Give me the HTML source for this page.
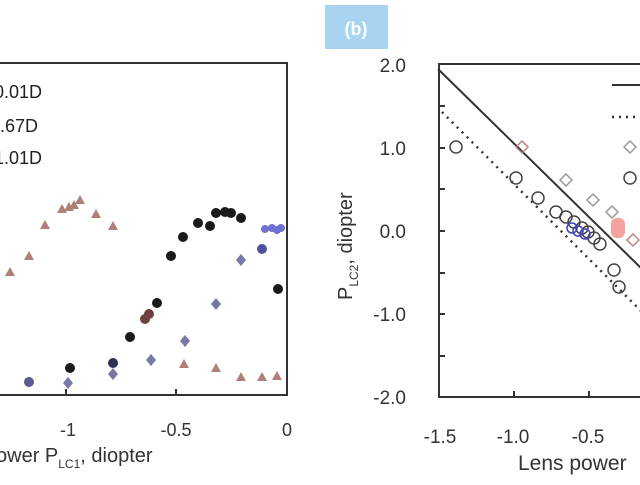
<!DOCTYPE html>
<html><head><style>
body{margin:0;width:640px;height:480px;overflow:hidden;background:#fff;font-family:"Liberation Sans",sans-serif;}
</style></head><body>
<svg width="640" height="480" xmlns="http://www.w3.org/2000/svg" font-family="Liberation Sans, sans-serif">
<rect x="325" y="5" width="63" height="44" fill="#a8d4f2"/>
<text x="356" y="35" font-size="18" font-weight="bold" fill="#fff" text-anchor="middle">(b)</text>
<!-- Left panel -->
<g fill="none" stroke="#333" stroke-width="2">
<polyline points="-2,63 287,63 287,395 -2,395"/>
<line x1="66" y1="395" x2="66" y2="389"/><line x1="176" y1="395" x2="176" y2="389"/>
</g>
<g font-size="18" fill="#222">
<text x="-6" y="98">0.01D</text><text x="-10" y="132">0.67D</text><text x="-6" y="164">1.01D</text>
</g>
<g font-size="18" fill="#333" text-anchor="middle">
<text x="68" y="436">-1</text><text x="176" y="436">-0.5</text><text x="287" y="436">0</text>
</g>
<text x="-4" y="462" font-size="20" fill="#333">ower P<tspan font-size="12" dy="6">LC1</tspan><tspan dy="-6">, diopter</tspan></text>
<g fill="#b08078">
<polygon points="10,267 15,276 5,276"/><polygon points="29,251 34,260 24,260"/><polygon points="45,220 50,229 40,229"/><polygon points="62,204 67,213 57,213"/><polygon points="69,202 74,211 64,211"/><polygon points="74,200 79,209 69,209"/><polygon points="80,195 85,204 75,204"/><polygon points="96,209 101,218 91,218"/><polygon points="113,221 118,230 108,230"/><polygon points="184,359 189,368 179,368"/><polygon points="216,363 221,372 211,372"/><polygon points="241,372 246,381 236,381"/><polygon points="262,372 267,381 257,381"/><polygon points="277,371 282,380 272,380"/>
</g>
<g fill="#7878a8">
<g transform="translate(29,382)"><circle r="5" fill="#5a5a90"/></g>
<polygon points="68,377 73,383 68,389 63,383"/><polygon points="113,368 118,374 113,380 108,374"/><polygon points="151,354 156,360 151,366 146,360"/><polygon points="185,335 190,341 185,347 180,341"/><polygon points="216,298 221,304 216,310 211,304"/><polygon points="241,254 246,260 241,266 236,260"/>
<circle cx="262" cy="249" r="5" fill="#5050a0"/><circle cx="265" cy="229" r="4" fill="#7070d0"/><circle cx="272" cy="228" r="4" fill="#7070d0"/><circle cx="277" cy="230" r="4" fill="#7070d0"/><circle cx="281" cy="228" r="4" fill="#7070d0"/>
</g>
<g fill="#1a1a1a">
<circle cx="70" cy="368" r="5"/><circle cx="113" cy="363" r="5" fill="#303050"/><circle cx="130" cy="337" r="5"/><circle cx="157" cy="303" r="5"/><circle cx="171" cy="256" r="5"/><circle cx="183" cy="237" r="5"/><circle cx="198" cy="223" r="5"/><circle cx="210" cy="226" r="5"/><circle cx="216" cy="213" r="5"/><circle cx="225" cy="212" r="5"/><circle cx="231" cy="213" r="5"/><circle cx="241" cy="218" r="5"/><circle cx="278" cy="289" r="5"/>
<circle cx="145" cy="319" r="5" fill="#704040"/><circle cx="149" cy="314" r="5" fill="#704040"/>
</g>
<!-- Right panel -->
<g fill="none" stroke="#333" stroke-width="2">
<polyline points="645,64 439,64 439,397 645,397"/>
<line x1="514" y1="397" x2="514" y2="391"/><line x1="589" y1="397" x2="589" y2="391"/>
<line x1="439" y1="106" x2="445" y2="106"/><line x1="439" y1="148" x2="445" y2="148"/><line x1="439" y1="189" x2="445" y2="189"/><line x1="439" y1="231" x2="445" y2="231"/><line x1="439" y1="273" x2="445" y2="273"/><line x1="439" y1="314" x2="445" y2="314"/><line x1="439" y1="356" x2="445" y2="356"/>
<line x1="438" y1="69" x2="642" y2="269"/>
<line x1="442" y1="112" x2="642" y2="312" stroke-dasharray="2,5" stroke-width="2.5"/>
<line x1="612" y1="85" x2="640" y2="85"/>
<line x1="612" y1="117" x2="640" y2="117" stroke-dasharray="2,5" stroke-width="2.5"/>
</g>
<g font-size="19" fill="#333" text-anchor="end">
<text x="406" y="72">2.0</text><text x="406" y="155">1.0</text><text x="406" y="238">0.0</text><text x="406" y="321">-1.0</text><text x="406" y="404">-2.0</text>
</g>
<g font-size="19" fill="#333" text-anchor="middle">
<text x="440" y="443">-1.5</text><text x="513" y="443">-1.0</text><text x="588" y="443">-0.5</text>
</g>
<text x="518" y="470" font-size="21" fill="#333">Lens power</text>
<text transform="translate(352,300) rotate(-90)" font-size="20" fill="#333">P<tspan font-size="12" dy="6">LC2</tspan><tspan dy="-6">, diopter</tspan></text>
<g fill="none" stroke="#444" stroke-width="1.5">
<circle cx="456" cy="147" r="6"/><circle cx="516" cy="178" r="6"/><circle cx="538" cy="198" r="6"/><circle cx="556" cy="212" r="6"/><circle cx="566" cy="217" r="6"/><circle cx="574" cy="222" r="6"/><circle cx="582" cy="228" r="6"/><circle cx="588" cy="232" r="6"/><circle cx="594" cy="238" r="6"/><circle cx="600" cy="244" r="6"/><circle cx="614" cy="270" r="6"/><circle cx="619" cy="287" r="6"/><circle cx="630" cy="178" r="6"/>
</g>
<g fill="none" stroke="#4040c0" stroke-width="1.5">
<circle cx="572" cy="228" r="5"/><circle cx="578" cy="231" r="5"/><circle cx="585" cy="234" r="5"/>
</g>
<g fill="none" stroke="#999" stroke-width="1.5">
<polygon points="522,141 528,147 522,153 516,147" stroke="#c08080"/><polygon points="566,174 572,180 566,186 560,180"/><polygon points="593,194 599,200 593,206 587,200"/><polygon points="612,206 618,212 612,218 606,212"/><polygon points="630,141 636,147 630,153 624,147"/><polygon points="633,234 639,240 633,246 627,240" stroke="#c08080"/>
</g>
<g fill="#f06060" opacity="0.6">
<rect x="611" y="218" width="14" height="20" rx="6"/>
</g>
</svg>
</body></html>
